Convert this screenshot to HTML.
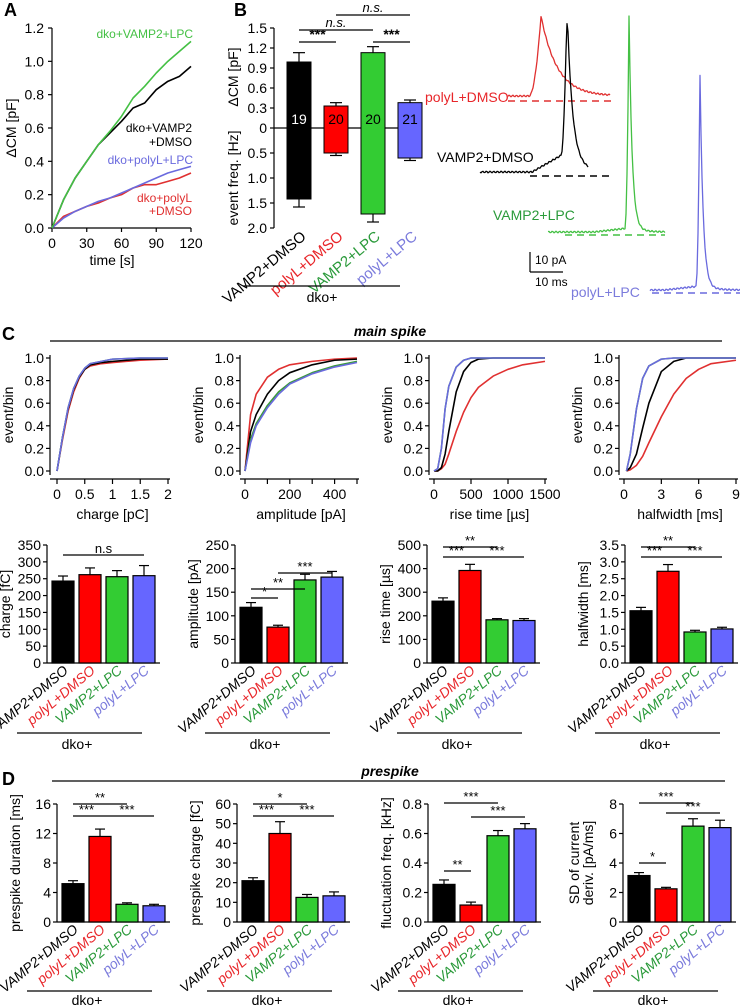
<!DOCTYPE html>
<html><head><meta charset="utf-8"><style>
body{margin:0;background:#fff}
svg{display:block;font-family:"Liberation Sans",sans-serif}
</style></head><body>
<svg id="fig" width="740" height="1008" viewBox="0 0 740 1008" xmlns="http://www.w3.org/2000/svg"></svg>
<script>
// ---------- DATA ----------
const groups = ["VAMP2+DMSO","polyL+DMSO","VAMP2+LPC","polyL+LPC"];
const barColors = ["#000000","#ff0000","#33cc33","#6666ff"];
const textColors = ["#000000","#e8262a","#2a9a3a","#7b7bdc"];
// Panel A
const aTime = [0,10,20,30,40,50,60,70,80,90,100,110,120];
const aGreen = [0,0.17,0.3,0.4,0.5,0.58,0.67,0.78,0.85,0.93,1.0,1.06,1.12];
const aBlack = [0,0.17,0.3,0.4,0.5,0.57,0.64,0.72,0.75,0.83,0.88,0.91,0.97];
const aBlue = [0,0.06,0.1,0.13,0.16,0.18,0.21,0.24,0.27,0.3,0.33,0.35,0.37];
const aRed = [0,0.07,0.1,0.13,0.15,0.18,0.2,0.24,0.26,0.26,0.28,0.3,0.33];
// Panel B
const bCM = [0.99,0.33,1.13,0.38];
const bCMerr = [0.14,0.05,0.09,0.04];
const bFreq = [1.42,0.5,1.72,0.6];
const bFreqErr = [0.16,0.05,0.16,0.05];
const bN = ["19","20","20","21"];
// Panel C CDFs
const chX = [0,0.1,0.2,0.3,0.4,0.5,0.6,0.8,1.0,1.5,2];
const chAll = [[0,0.3,0.55,0.72,0.83,0.9,0.94,0.96,0.97,0.99,0.99],[0,0.28,0.53,0.7,0.82,0.9,0.93,0.95,0.96,0.98,0.99],[0,0.3,0.56,0.73,0.84,0.91,0.95,0.97,0.99,1,1],[0,0.3,0.56,0.73,0.84,0.91,0.95,0.97,0.99,1,1]];
const amX = [0,25,50,100,150,200,300,400,500];
const amAll = [[0,0.35,0.5,0.68,0.8,0.87,0.94,0.98,0.99],[0,0.5,0.68,0.83,0.9,0.94,0.97,0.99,1.0],[0,0.28,0.42,0.58,0.7,0.78,0.87,0.93,0.97],[0,0.25,0.4,0.56,0.68,0.77,0.86,0.92,0.96]];
const rtX = [0,50,100,150,200,300,400,500,600,800,1000,1200,1500];
const rtAll = [[0,0,0.03,0.15,0.35,0.7,0.88,0.96,0.99,1,1,1,1],[0,0,0.02,0.06,0.15,0.35,0.52,0.65,0.74,0.84,0.9,0.94,0.97],[0,0.02,0.2,0.55,0.75,0.92,0.98,1,1,1,1,1,1],[0,0.02,0.2,0.55,0.75,0.92,0.98,1,1,1,1,1,1]];
const hwX = [0.2,0.5,1,1.5,2,3,4,5,6,7,9];
const hwAll = [[0,0.03,0.15,0.38,0.6,0.88,0.97,1,1,1,1],[0,0.01,0.05,0.13,0.25,0.48,0.68,0.82,0.9,0.95,0.98],[0,0.15,0.55,0.82,0.93,0.99,1,1,1,1,1],[0,0.15,0.55,0.82,0.93,0.99,1,1,1,1,1]];
// Panel C bars
const chargeV=[243,262,256,259], chargeE=[15,20,18,30];
const ampV=[118,76,176,182], ampE=[10,4,12,12];
const riseV=[262,392,183,180], riseE=[14,26,5,8];
const hwV=[1.55,2.72,0.92,1.01], hwE=[0.1,0.2,0.05,0.05];
// Panel D bars
const durV=[5.2,11.6,2.4,2.2], durE=[0.4,1.0,0.2,0.2];
const pchV=[21,45,12.5,13.3], pchE=[1.5,6,1.5,2];
const flV=[0.255,0.115,0.585,0.632], flE=[0.03,0.02,0.035,0.035];
const sdV=[3.15,2.25,6.5,6.4], sdE=[0.2,0.1,0.5,0.5];

// ---------- HELPERS ----------
const NS="http://www.w3.org/2000/svg";
const svg=document.getElementById('fig');
function mk(tag,attrs,parent){const e=document.createElementNS(NS,tag);for(const k in attrs)e.setAttribute(k,attrs[k]);(parent||svg).appendChild(e);return e;}
function line(x1,y1,x2,y2,name,stroke,w,dash){const e=mk('line',{x1,y1,x2,y2,stroke:stroke||'#000','stroke-width':w||1.2});if(dash)e.setAttribute('stroke-dasharray',dash);


return e;}
function text(x,y,s,name,o){o=o||{};const e=mk('text',{x,y,'font-size':o.size||14,'text-anchor':o.anchor||'middle',fill:o.fill||'#000'});if(o.weight)e.setAttribute('font-weight',o.weight);if(o.style)e.setAttribute('font-style',o.style);if(o.rot!=null)e.setAttribute('transform',`rotate(${o.rot} ${x} ${y})`);e.textContent=s;


return e;}
function poly(pts,stroke,name,w){const e=mk('polyline',{points:pts.map(p=>p.join(',')).join(' '),fill:'none',stroke,'stroke-width':w||1.6,'stroke-linejoin':'round'});


return e;}

// ---------- PANEL LETTERS ----------
text(4,16,"A","panel-label-a",{size:18,weight:'bold',anchor:'start'});
text(234,16,"B","panel-label-b",{size:18,weight:'bold',anchor:'start'});
text(2,340,"C","panel-label-c",{size:18,weight:'bold',anchor:'start'});
text(2,785,"D","panel-label-d",{size:18,weight:'bold',anchor:'start'});

// ---------- PANEL A ----------
(function(){
 const X=t=>52+t/120*139, Y=v=>228-v/1.2*200;
 line(52,28,52,228,"a-y-axis");line(52,228,191,228,"a-x-axis");
 [0,0.2,0.4,0.6,0.8,1.0,1.2].forEach(v=>{line(48,Y(v),52,Y(v),"a-y-tick");text(44,Y(v)+5,v.toFixed(1),"a-y-tick-label",{anchor:'end'});});
 [0,30,60,90,120].forEach(t=>{line(X(t),228,X(t),232,"a-x-tick");text(X(t),248,String(t),"a-x-tick-label");});
 text(112,265,"time [s]","a-x-axis-title");
 text(16,128,"ΔCM [pF]","a-y-axis-title",{rot:-90});
 [[aRed,'#e03030','a-line-polyl-dmso'],[aBlue,'#6a6ade','a-line-polyl-lpc'],[aBlack,'#000','a-line-vamp2-dmso'],[aGreen,'#44c044','a-line-vamp2-lpc']].forEach(s=>poly(aTime.map((t,i)=>[X(t),Y(s[0][i])]),s[1],s[2]));
 text(193,38,"dko+VAMP2+LPC","a-legend-vamp2-lpc",{anchor:'end',fill:'#44c044',size:12});
 text(192,132,"dko+VAMP2","a-legend-vamp2-dmso",{anchor:'end',size:12});
 text(192,146,"+DMSO","a-legend-vamp2-dmso-2",{anchor:'end',size:12});
 text(193,164,"dko+polyL+LPC","a-legend-polyl-lpc",{anchor:'end',fill:'#6a6ade',size:12});
 text(192,202,"dko+polyL","a-legend-polyl-dmso",{anchor:'end',fill:'#e03030',size:12});
 text(192,215,"+DMSO","a-legend-polyl-dmso-2",{anchor:'end',fill:'#e03030',size:12});
})();

// ---------- PANEL B ----------
(function(){
 const ax=274, z=128, Yu=v=>z-v/1.5*100, Yd=v=>z+v/2.0*100;
 line(ax,28,ax,228,"b-y-axis");line(ax,z,415,z,"b-zero-line");
 [0.3,0.6,0.9,1.2,1.5].forEach(v=>{line(ax-4,Yu(v),ax,Yu(v),"b-tick");text(ax-7,Yu(v)+5,v.toFixed(1),"b-tick-label",{anchor:'end'});});
 text(ax-7,z+5,"0","b-tick-label",{anchor:'end'});line(ax-4,z,ax,z,"b-tick");
 [0.5,1.0,1.5,2.0].forEach(v=>{line(ax-4,Yd(v),ax,Yd(v),"b-tick");text(ax-7,Yd(v)+5,v.toFixed(1),"b-tick-label",{anchor:'end'});});
 text(238,77,"ΔCM [pF]","b-y-title-cm",{rot:-90});
 text(238,178,"event freq. [Hz]","b-y-title-freq",{rot:-90});
 const bw=24;
 bCM.forEach((v,i)=>{const x=287+i*37,c=x+bw/2;
  line(c,Yu(v),c,Yu(v+bCMerr[i]),"b-error-up");line(c-6,Yu(v+bCMerr[i]),c+6,Yu(v+bCMerr[i]),"b-error-cap");
  line(c,Yd(bFreq[i]),c,Yd(bFreq[i]+bFreqErr[i]),"b-error-down");line(c-6,Yd(bFreq[i]+bFreqErr[i]),c+6,Yd(bFreq[i]+bFreqErr[i]),"b-error-cap");
  const r=mk('rect',{x,y:Yu(v),width:bw,height:Yd(bFreq[i])-Yu(v),fill:barColors[i],stroke:'#000','stroke-width':1});
  
  
  text(c,z-4,bN[i],"b-n-label",{fill:i==0?'#fff':'#000',size:14});
  text(c+8,238,groups[i],"b-group-label",{anchor:'end',rot:-40,fill:textColors[i],size:15});
 });
 const cx=i=>287+i*37+12;
 [[0,1,42,"***"],[2,3,42,"***"],[0,2,30,"n.s."],[1,3,15,"n.s."]].forEach(s=>{line(cx(s[0]),s[2],cx(s[1]),s[2],"b-sig-line");text((cx(s[0])+cx(s[1]))/2,s[2]-3,s[3],"b-sig-text",{style:s[3]=="n.s."?'italic':null,size:s[3]=="n.s."?13:14,weight:s[3]=="***"?'bold':null});});
 line(243,286,400,286,"b-group-line");text(322,302,"dko+","b-group-title");
})();

// ---------- TRACES ----------
(function(){
 const tr=[
  {c:'#e03030',b:96,x0:508,x1:610,tp:541,pk:16,rise:12,dec:16,pre:0,dash:[508,612,101],lab:["polyL+DMSO",425,102]},
  {c:'#000',b:172,x0:480,x1:588,tp:567,pk:24,rise:6,dec:5,pre:20,dash:[530,610,176],lab:["VAMP2+DMSO",437,162]},
  {c:'#44c044',b:232,x0:548,x1:665,tp:629,pk:16,rise:4,dec:3,pre:4,dash:[565,665,235],lab:["VAMP2+LPC",493,220]},
  {c:'#6a6ade',b:290,x0:650,x1:740,tp:700,pk:76,rise:4,dec:3,pre:4,dash:[652,740,293],lab:["polyL+LPC",571,297]}];
 tr.forEach((t,k)=>{
  const pts=[];
  for(let x=t.x0;x<=t.x1;x+=1){let y=t.b+Math.sin(x*1.7+k)*0.8;
   if(t.pre&&x>t.tp-35&&x<t.tp) y-=t.pre*Math.max(0,(x-(t.tp-35))/35);
   if(x<=t.tp&&x>t.tp-t.rise) y-= (t.b-t.pk)*Math.pow((x-(t.tp-t.rise))/t.rise,2);
   if(x>t.tp) y-=(t.b-t.pk)*Math.exp(-(x-t.tp)/t.dec)+ (t.pre? t.pre*Math.exp(-(x-t.tp)/12):0);
   pts.push([x,y.toFixed(1)]);}
  poly(pts,t.c,"amperometric-trace-"+k,1.3);
  line(t.dash[0],t.dash[2],t.dash[1],t.dash[2],"trace-baseline-"+k,t.c,1.5,"7,5");
  text(t.lab[1],t.lab[2],t.lab[0],"trace-label-"+k,{anchor:'start',fill:textColors[[1,0,2,3][k]],size:14});
 });
 line(530,252,530,272,"scale-bar-vertical");line(530,272,563,272,"scale-bar-horizontal");
 text(535,264,"10 pA","scale-bar-pa",{anchor:'start',size:12});
 text(535,286,"10 ms","scale-bar-ms",{anchor:'start',size:12});
})();

// ---------- PANEL C CDFs ----------
line(50,341,722,341,"main-spike-line");
text(390,336,"main spike","main-spike-title",{style:'italic',weight:'bold',size:14});
function cdf(ax,x0,x1,xmax,ticks,tickLabels,title,xs,all){
 const X=v=>x0+v/xmax*(x1-x0), Y=v=>471-v*113;
 line(ax,355,ax,475,"cdf-y-axis");line(ax,479,x1+2,479,"cdf-x-axis");
 [0,0.2,0.4,0.6,0.8,1.0].forEach(v=>{line(ax-4,Y(v),ax,Y(v),"cdf-y-tick");text(ax-6,Y(v)+5,v.toFixed(1),"cdf-y-tick-label",{anchor:'end',size:14});});
 ticks.forEach((v,i)=>{line(X(v),479,X(v),484,"cdf-x-tick");text(X(v),499,tickLabels[i],"cdf-x-tick-label",{size:14});});
 text((x0+x1)/2,519,title,"cdf-x-axis-title",{size:14});
 text(ax-37,415,"event/bin","cdf-y-axis-title",{rot:-90,size:14});
 [1,0,2,3].forEach(s=>poly(xs.map((x,i)=>[X(x),Y(all[s][i])]),['#000','#e03030','#3a9a3a','#6a6ade'][s],"cdf-line-"+groups[s],1.6));
}
cdf(50,57,168,2,[0,0.5,1,1.5,2],["0","0.5","1","1.5","2"],"charge [pC]",chX,chAll);
cdf(240,245,357,500,[0,100,200,300,400,500],["0","","200","","400",""],"amplitude [pA]",amX,amAll);
cdf(429,434,545,1500,[0,500,1000,1500],["0","500","1000","1500"],"rise time [µs]",rtX,rtAll);
cdf(619,624,736,9,[0,3,6,9],["0","3","6","9"],"halfwidth [ms]",hwX,hwAll);

// ---------- BAR PANELS ----------
function bars(ax,yTop,y0,max,step,fmt,vals,errs,ytitle,sigs,lineY,dkoY,ytitle2){
 const Y=v=>y0-v/max*(y0-yTop), bx=i=>ax+5+i*27, bw=22;
 line(ax,yTop,ax,y0,"bar-y-axis");line(ax,y0,ax+113,y0,"bar-x-axis");
 for(let v=0;v<=max+1e-9;v+=step){line(ax-4,Y(v),ax,Y(v),"bar-y-tick");text(ax-6,Y(v)+5,fmt(v),"bar-y-tick-label",{anchor:'end',size:14});}
 if(ytitle2){text(ax-44,(yTop+y0)/2,ytitle,"bar-y-axis-title",{rot:-90,size:14});text(ax-30,(yTop+y0)/2,ytitle2,"bar-y-axis-title-2",{rot:-90,size:14});}
 else text(ax-37,(yTop+y0)/2,ytitle,"bar-y-axis-title",{rot:-90,size:14});
 vals.forEach((v,i)=>{const c=bx(i)+bw/2;
  line(c,Y(v),c,Y(v+errs[i]),"bar-error");line(c-5,Y(v+errs[i]),c+5,Y(v+errs[i]),"bar-error-cap");
  const r=mk('rect',{x:bx(i),y:Y(v),width:bw,height:y0-Y(v),fill:barColors[i],stroke:'#000','stroke-width':1.2});
  
  
  text(c+6,y0+9,groups[i],"bar-group-label",{anchor:'end',rot:-40,fill:textColors[i],size:14,style:'italic'});
 });
 sigs.forEach(s=>{const a=bx(s[0])+bw/2,b=bx(s[1])+bw/2;line(a,s[2],b,s[2],"sig-line");text((a+b)/2,s[2]-2,s[3],"sig-text",{size:13});});
 line(ax-30,lineY,ax+95,lineY,"group-line");text(ax+30,dkoY,"dko+","group-title",{size:14});
}
const f0=v=>String(Math.round(v)), f1=v=>v.toFixed(1);
bars(47,545,663,350,50,f0,chargeV,chargeE,"charge [fC]",[[0,3,555,"n.s"]],733,749);
bars(235,545,663,250,50,f0,ampV,ampE,"amplitude [pA]",[[0,1,598,"*"],[0,2,589,"**"],[1,3,573,"***"]],733,749);
bars(427,545,663,500,100,f0,riseV,riseE,"rise time [µs]",[[0,2,547,"**"],[0,1,557,"***"],[1,3,557,"***"]],733,749);
bars(625,545,663,3.5,0.5,f1,hwV,hwE,"halfwidth [ms]",[[0,2,547,"**"],[0,1,557,"***"],[1,3,557,"***"]],733,749);

line(52,781,725,781,"prespike-line");
text(390,776,"prespike","prespike-title",{style:'italic',weight:'bold',size:14});
bars(57,804,922,16,4,f0,durV,durE,"prespike duration [ms]",[[0,2,804,"**"],[0,1,816,"***"],[1,3,816,"***"]],991,1005);
bars(237,804,922,60,10,f0,pchV,pchE,"prespike charge [fC]",[[0,2,804,"*"],[0,1,816,"***"],[1,3,816,"***"]],991,1005);
bars(428,804,922,0.8,0.2,f1,flV,flE,"fluctuation freq. [kHz]",[[0,2,803,"***"],[1,3,817,"***"],[0,1,871,"**"]],991,1005);
bars(623,804,922,8,2,f0,sdV,sdE,"SD of current",[[0,2,803,"***"],[1,3,813,"***"],[0,1,863,"*"]],991,1005,"deriv. [pA/ms]");
</script>
</body></html>
